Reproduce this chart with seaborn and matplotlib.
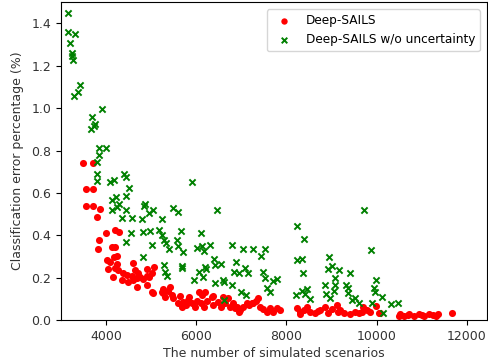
import numpy as np
import pandas as pd
import matplotlib
matplotlib.use("Agg")
import matplotlib.pyplot as plt
import seaborn as sns

series_names = ["Deep-SAILS", "Deep-SAILS w/o uncertainty"]

red_x = [3480, 3717, 3555, 3703, 3555, 3703, 3860, 3800, 3850, 3815,
         4005, 4199, 4285, 4125, 4199, 4030, 4088, 4177, 4236, 4250,
         4051, 4199, 4162, 4273, 4384, 4458, 4569, 4606, 4643, 4717,
         4680, 4753, 4695, 4827, 4902, 4961, 5013, 5065, 4916, 5013,
         5049, 5235, 5257, 5257, 5420, 5383, 5457, 5494, 5309, 5642,
         5701, 5679, 5775, 5827, 5901, 5975, 6012, 6071, 6123, 6101,
         6175, 6249, 6197, 6368, 6381, 6492, 6545, 6604, 6715, 6752,
         6826, 6900, 6959, 7048, 7181, 7122, 7270, 7359, 7330, 7418,
         7566, 7640, 7713, 7787, 7862, 7490, 8237, 8311, 8385, 8459,
         8533, 8644, 8755, 8861, 8913, 9010, 9121, 9195, 9269, 9527,
         9601, 9675, 9786, 9860, 9993, 10046, 10082, 10489, 10526, 10600,
         10718, 10829, 10940, 11051, 11162, 11310, 11362, 11681, 5840, 6345,
         6641, 6863, 6974, 7234, 4350, 4480, 4600, 4900, 5600, 8300,
         9400, 9700, 9150, 8700, 10700, 11000, 11250]
red_y = [0.739, 0.742, 0.616, 0.616, 0.536, 0.538, 0.522, 0.486, 0.377, 0.337,
         0.409, 0.425, 0.417, 0.346, 0.343, 0.283, 0.275, 0.296, 0.302, 0.264,
         0.239, 0.244, 0.204, 0.236, 0.220, 0.212, 0.208, 0.270, 0.236, 0.220,
         0.197, 0.204, 0.157, 0.192, 0.208, 0.201, 0.223, 0.251, 0.239, 0.134,
         0.129, 0.134, 0.145, 0.129, 0.157, 0.138, 0.118, 0.102, 0.110, 0.113,
         0.086, 0.063, 0.071, 0.094, 0.082, 0.063, 0.091, 0.134, 0.118, 0.079,
         0.063, 0.091, 0.134, 0.113, 0.071, 0.086, 0.063, 0.110, 0.102, 0.063,
         0.079, 0.060, 0.039, 0.063, 0.071, 0.082, 0.079, 0.102, 0.090, 0.063,
         0.039, 0.055, 0.039, 0.055, 0.047, 0.050, 0.055, 0.039, 0.047, 0.063,
         0.039, 0.031, 0.047, 0.063, 0.035, 0.050, 0.071, 0.047, 0.035, 0.039,
         0.031, 0.039, 0.047, 0.039, 0.066, 0.035, 0.035, 0.019, 0.028, 0.019,
         0.028, 0.019, 0.028, 0.019, 0.028, 0.019, 0.028, 0.035, 0.110, 0.110,
         0.079, 0.055, 0.047, 0.079, 0.190, 0.180, 0.190, 0.165, 0.080, 0.030,
         0.030, 0.060, 0.040, 0.045, 0.022, 0.024, 0.022]

green_x = [3160, 3160, 3320, 3200, 3250, 3235, 3275, 3420, 3370, 3295,
           3910, 3695, 3760, 3725, 3665, 3840, 4005, 3850, 3790, 3800,
           3805, 4090, 4180, 4400, 4445, 4515, 4140, 4230, 4290, 4445,
           4125, 4240, 4445, 4360, 4580, 4870, 4845, 4955, 5040, 4790,
           5230, 4445, 4547, 4827, 4970, 5013, 4827, 5180, 5235, 5294,
           5320, 5400, 5475, 5595, 5664, 5568, 5595, 5710, 5290, 5310,
           5346, 5679, 5685, 5910, 6121, 6010, 6181, 6300, 6105, 5955,
           6070, 6140, 6197, 6210, 6403, 6419, 6560, 6465, 6410, 6590,
           6610, 6789, 6789, 6610, 6890, 6940, 6830, 7075, 7159, 7048,
           6985, 7095, 7250, 7433, 7529, 7477, 7529, 7580, 7640, 7713,
           7787, 8232, 8380, 8246, 8343, 8365, 8343, 8217, 8454, 8417,
           8513, 8935, 9010, 8913, 9158, 9084, 8861, 9084, 8884, 8958,
           9047, 9327, 9356, 9416, 9356, 9453, 9527, 9601, 9720, 9885,
           9942, 9964, 9980, 9890, 10127, 10150, 10310, 10476]
green_y = [1.450, 1.360, 1.350, 1.305, 1.260, 1.248, 1.226, 1.107, 1.074, 1.055,
           0.997, 0.956, 0.925, 0.915, 0.900, 0.813, 0.813, 0.777, 0.744, 0.689,
           0.655, 0.652, 0.663, 0.689, 0.673, 0.624, 0.565, 0.582, 0.547, 0.584,
           0.520, 0.532, 0.519, 0.483, 0.482, 0.546, 0.538, 0.503, 0.519, 0.479,
           0.476, 0.368, 0.413, 0.415, 0.422, 0.354, 0.299, 0.424, 0.401, 0.377,
           0.365, 0.333, 0.530, 0.511, 0.419, 0.379, 0.351, 0.319, 0.261, 0.225,
           0.208, 0.257, 0.247, 0.652, 0.349, 0.340, 0.325, 0.354, 0.409, 0.191,
           0.226, 0.204, 0.251, 0.240, 0.287, 0.258, 0.264, 0.519, 0.175, 0.187,
           0.180, 0.354, 0.165, 0.096, 0.272, 0.220, 0.228, 0.246, 0.223, 0.335,
           0.134, 0.120, 0.333, 0.302, 0.333, 0.228, 0.197, 0.150, 0.134, 0.185,
           0.192, 0.445, 0.384, 0.283, 0.288, 0.223, 0.138, 0.118, 0.146, 0.123,
           0.098, 0.296, 0.255, 0.239, 0.236, 0.197, 0.165, 0.165, 0.123, 0.102,
           0.138, 0.165, 0.150, 0.223, 0.126, 0.094, 0.102, 0.082, 0.518, 0.332,
           0.150, 0.134, 0.189, 0.082, 0.107, 0.035, 0.075, 0.079]

xlabel = "The number of simulated scenarios"
ylabel = "Classification error percentage (%)"
xticks = [4000, 6000, 8000, 10000, 12000]
yticks = [0.0, 0.2, 0.4, 0.6, 0.8, 1.0, 1.2, 1.4]

df_red = pd.DataFrame({"x": red_x, "y": red_y})
df_green = pd.DataFrame({"x": green_x, "y": green_y})

fig = plt.figure(figsize=(4.88, 3.6), dpi=100)
ax = fig.add_axes([0.125, 0.111, 0.873, 0.883])

sns.scatterplot(data=df_red, x="x", y="y", ax=ax, color="red", marker="o",
                s=26, linewidth=0, label=series_names[0])
sns.scatterplot(data=df_green, x="x", y="y", ax=ax, color="green", marker="x",
                s=20, linewidth=1.4, label=series_names[1])

ax.set_xlim(3000, 12450)
ax.set_ylim(0, 1.5)
ax.set_xticks(xticks)
ax.set_yticks(yticks)
ax.set_xticklabels([str(t) for t in xticks])
ax.set_yticklabels([f"{t:.1f}" for t in yticks])
ax.set_xlabel(xlabel, fontsize=9, color="#333333", labelpad=3)
ax.set_ylabel(ylabel, fontsize=9, color="#333333", labelpad=5)
ax.tick_params(labelsize=9, labelcolor="#333333", length=3.5)
ax.legend(loc="upper right", fontsize=8.7, frameon=True, markerscale=0.9,
          borderaxespad=0.6)

fig.savefig("out.png", dpi=100)
